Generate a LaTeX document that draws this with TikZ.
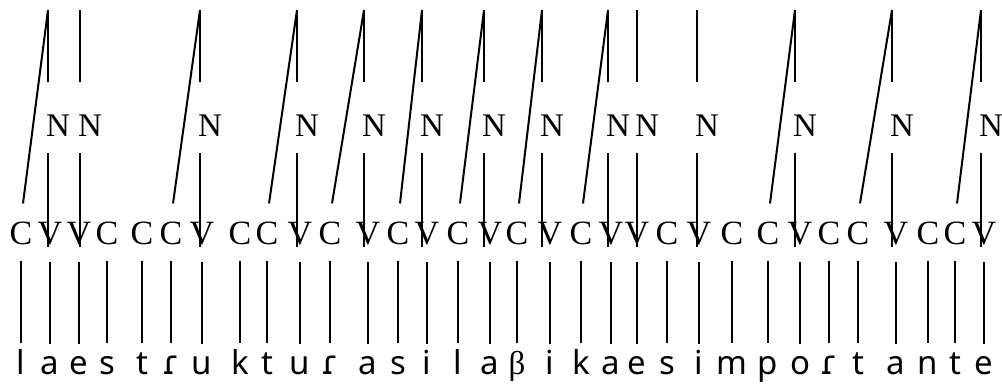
\documentclass[tikz,border=0pt]{standalone}
\usepackage{fontspec}
\setmainfont{Liberation Serif}
\newfontfamily\segfont{Noto Sans}
\newfontfamily\tapfont{DejaVu Sans}
\usetikzlibrary{calc}

\begin{document}
\begin{tikzpicture}[x=1pt, y=1pt, line width=2pt,
  tier/.style={font=\fontsize{34}{34}\selectfont, inner sep=0pt, anchor=base},
  nuc/.style={font=\fontsize{33}{33}\selectfont, inner sep=0pt, anchor=base},
  seg/.style={font=\segfont\fontsize{33}{33}\selectfont, inner sep=0pt, anchor=base}]
\useasboundingbox (0,0) rectangle (1002,388);
% CV tier and segments
\foreach \x/\t/\s [count=\i] in {21/C/l, 50/V/a, 79/V/e, 107/C/s, 142/C/t, 171/C/{\tapfont ɾ}, 202/V/u,
  240/C/k, 267/C/t, 300/V/u, 330/C/{\tapfont ɾ}, 368/V/a, 398/C/s, 427/V/i, 458/C/l, 490/V/a,
  517/C/{\rmfamily β}, 550/V/i, 581/C/k, 611/V/a, 637/V/e, 667/C/s, 699/V/i, 732/C/m,
  768/C/p, 800/V/o, 829/C/{\tapfont ɾ}, 858/C/t, 896/V/a, 928/C/n, 955/C/t, 984/V/e} {
  \node[tier] (c\i) at (\x,143) {\t};
  \node[seg] (s\i) at (\x,13) {\s};
  \draw (c\i.south) ++(0,-15) -- ++(0,-82);
}
% nuclei
\foreach \v/\tx in {2/48, 3/80, 7/200, 10/297, 12/364, 14/422, 16/484, 18/542,
  20/608, 21/637, 23/697, 26/795, 29/892, 32/981} {
  \coordinate (t\v) at (\tx,378);
  \node[nuc] (n\v) at (\tx+10,251) {N};
  \draw (t\v) -- (t\v |- 0,306);
  \draw (t\v |- 0,235) -- (t\v |- c\v.south);
}
% onsets
\foreach \c/\v in {1/2, 6/7, 9/10, 11/12, 13/14, 15/16, 17/18, 19/20, 25/26, 28/29, 31/32}
  \draw ($(c\c.north)+(2,18)$) -- (t\v);
\end{tikzpicture}
\end{document}
